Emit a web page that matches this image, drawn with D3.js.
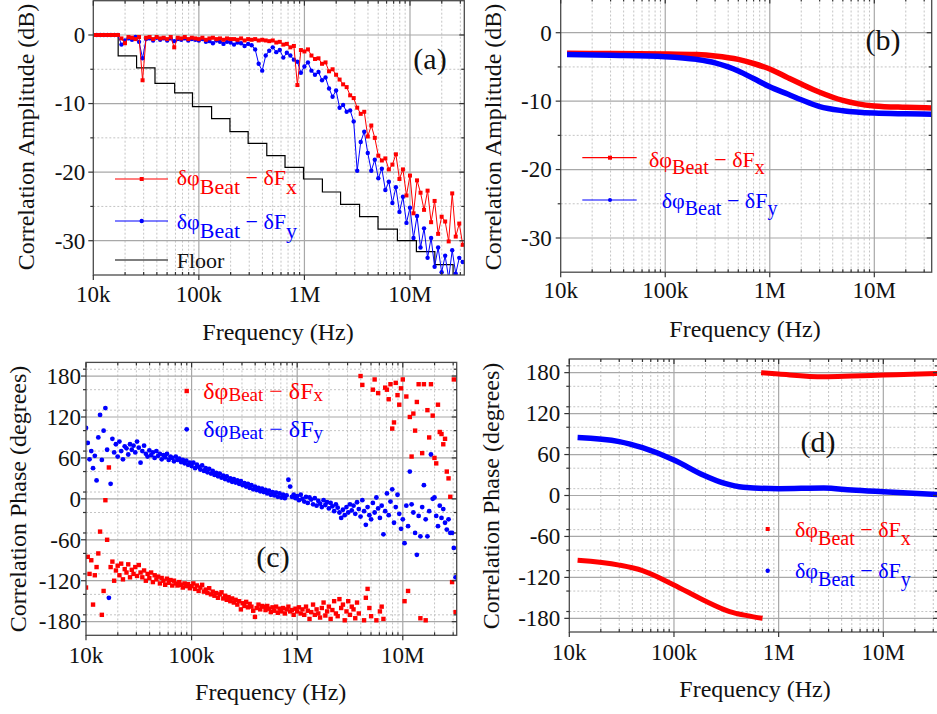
<!DOCTYPE html>
<html>
<head>
<meta charset="utf-8">
<script src="https://cdn.jsdelivr.net/npm/d3@7"></script>
<style>
  body { margin: 0; background: #fff; }
  svg, svg text { font-family: "Liberation Serif", "Times New Roman", Times, serif; }
</style>
</head>
<body>
<svg id="fig" width="937" height="714" font-family="Liberation Serif, Times New Roman, serif"></svg>
<script>
// ---------------- data ----------------
// sweep grid: 60 log-spaced points per decade (mantissas), decades of the sweep
const decades = [1e4, 1e5, 1e6, 1e7];
const mant60 = [1.000,1.039,1.080,1.122,1.166,1.212,1.259,1.308,1.359,1.413,
                1.468,1.526,1.585,1.647,1.711,1.778,1.848,1.920,1.995,2.073,
                2.154,2.239,2.326,2.418,2.512,2.610,2.712,2.818,2.929,3.043,
                3.162,3.286,3.415,3.548,3.687,3.831,3.981,4.137,4.299,4.467,
                4.642,4.823,5.012,5.208,5.412,5.623,5.843,6.072,6.310,6.556,
                6.813,7.079,7.356,7.645,7.943,8.254,8.577,8.913,9.261,9.624];

const xMajor = [1e4, 1e5, 1e6, 1e7];
const xMajorLabels = ["10k", "100k", "1M", "10M"];
const ampTicks = [0, -10, -20, -30];
const ampTickLabels = ["0", "-10", "-20", "-30"];
const phaseTicks = [180, 120, 60, 0, -60, -120, -180];
const phaseTickLabels = ["180", "120", "60", "0", "-60", "-120", "-180"];

// (a) measured correlation amplitude (dB), every second sweep point
const ampRed = [
  0,0,0,0,0,0,0,0,-0.5,-1.2,-0.3,-0.4,-0.6,-0.3,-6.6,-0.4,-0.3,-0.6,-0.3,-0.5,-0.4,-0.6,-0.3,-1.8,-0.4,-0.5,-0.3,-0.6,-0.4,-0.5,
  -0.6,-0.4,-0.7,-0.5,-0.4,-0.6,-0.5,-0.7,-0.5,-0.6,-0.6,-0.7,-0.5,-0.8,-0.6,-0.7,-0.6,-0.8,-0.7,-0.8,-0.9,-0.8,-1.1,-1.0,-1.4,-1.3,-1.8,-1.6,-7.3,-2.2,
  -2.4,-2.1,-3.0,-3.5,-3.4,-4.2,-4.0,-5.3,-5.0,-5.8,-6.5,-7.2,-7.6,-8.8,-9.2,-10.6,-11.5,-11.2,-14.8,-13.2,-15.0,-17.6,-18.3,-18.0,-19.6,-18.9,-17.4,-21.0,-19.6,-23.4,
  -20.5,-26.0,-21.2,-23.0,-25.5,-22.7,-27.3,-24.2,-29.0,-26.5,-27.2,-30.1,-23.1,-29.4,-27.5,-30.6
];
const ampBlue = [
  0,0,0,0,0,0,0,0,-1.4,-0.8,-0.5,-0.7,-0.3,-1.0,-3.4,-0.6,-0.5,-0.8,-0.4,-0.7,-0.5,-0.8,-0.5,-0.9,-0.6,-0.7,-0.5,-0.8,-0.6,-0.7,
  -0.8,-0.6,-1.0,-0.9,-1.2,-0.8,-1.0,-1.3,-1.0,-1.1,-1.4,-1.1,-1.2,-1.6,-1.3,-1.5,-2.1,-4.2,-5.2,-3.0,-2.3,-1.8,-2.5,-2.2,-3.3,-2.6,-3.0,-3.6,-3.9,-5.5,
  -4.6,-4.0,-5.2,-5.8,-5.4,-6.6,-6.2,-7.8,-9.0,-8.1,-10.6,-10.2,-11.2,-11.0,-12.6,-19.8,-15.6,-14.1,-17.2,-19.8,-18.2,-20.9,-19.5,-22.6,-21.4,-24.5,-22.2,-25.8,-23.6,-27.4,
  -25.2,-29.6,-26.4,-31.0,-28.2,-32.5,-29.6,-33.8,-31.0,-34.6,-32.2,-35.5,-31.4,-34.8,-32.5,-33.1
];
// (a) measurement floor (step levels starting at each frequency)
const floorFreq = [1e4,1.72e4,2.57e4,3.84e4,5.9e4,8.7e4,1.32e5,1.97e5,2.93e5,4.4e5,6.55e5,9.8e5,1.48e6,2.2e6,3.33e6,4.98e6,7.6e6,1.15e7,1.72e7,2.56e7,3.3e7];
const floorLevel = [0,-3.05,-4.8,-7.05,-8.45,-10.45,-12.2,-14.1,-15.8,-17.6,-19.3,-21.0,-22.9,-24.7,-26.5,-28.3,-30.0,-31.6,-33.5,-35.2,-35.2];

// (b) modelled correlation amplitude (dB)
const modelAmpRedF  = [1.15e4,3e4,1e5,2e5,3e5,5e5,7e5,1e6,1.5e6,2e6,3e6,5e6,7e6,1e7,2e7,3.54e7];
const modelAmpRed   = [-3.0,-3.05,-3.1,-3.2,-3.4,-3.9,-4.5,-5.3,-6.6,-7.5,-8.7,-9.9,-10.4,-10.7,-10.9,-11.0];
const modelAmpBlueF = [1.15e4,3e4,1e5,2e5,3e5,4e5,5e5,7e5,1e6,1.5e6,2e6,3e6,5e6,1e7,2e7,3.54e7];
const modelAmpBlue  = [-3.2,-3.3,-3.5,-3.9,-4.4,-5.0,-5.6,-6.7,-7.9,-9.0,-9.8,-10.8,-11.4,-11.75,-11.85,-11.9];

// (c) measured correlation phase (degrees), full sweep grid
const phaseRed = [
  -130,-85,-110,-90,-155,-112,-100,-80,-48,-170,-135,-2,-60,46,-100,-92,-120,-105,-98,-112,
  -95,-118,-103,-108,-96,-115,-104,-110,-100,-113,-97,-108,-115,-105,-120,-110,-116,-108,-122,-112,
  -118,-114,-124,-116,-120,-126,-117,-123,-119,-127,-120,-124,-127,-122,-126,-130,-124,-128,-125,-131,
  -128,-124,-132,-127,-135,-130,-126,-136,-133,-138,-131,-140,-136,-142,-138,-145,-140,-137,-146,-142,
  -148,-144,-150,-146,-152,-148,-155,-150,-162,-153,-157,-151,-159,-154,-158,-164,-173,-160,-155,-162,
  -157,-158,-163,-157,-161,-166,-159,-164,-158,-167,-161,-165,-160,-168,-162,-158,-165,-163,-170,-161,
  -165,-159,-168,-162,-170,-158,-164,-176,-166,-155,-170,-162,-168,-174,-160,-152,-171,-165,-158,-176,
  -163,-150,-168,-172,-147,-160,-155,-178,-165,-150,-170,-158,-162,-175,-152,-168,180,167,-178,-145,
  -132,-160,-172,160,175,-178,155,-165,-158,-176,163,160,146,168,103,112,170,152,138,162,
  175,-150,150,-135,120,62,125,100,142,168,-175,67,168,-178,130,90,168,122,60,52,
  138,98,95,80,88,40,30,3,-122,175,-166
];
const phaseBlue = [
  104,82,58,70,45,63,27,90,123,57,100,133,72,-145,22,88,68,80,62,84,
  70,58,77,74,65,80,72,78,68,84,75,53,70,78,66,62,71,64,68,60,
  70,63,66,58,64,61,66,57,62,60,55,62,57,59,54,57,52,56,50,53,
  48,53,45,50,47,43,49,41,45,39,44,37,41,35,38,33,37,31,34,29,
  33,27,30,25,29,24,27,22,26,20,23,18,22,16,20,14,18,13,16,11,
  15,10,13,8,12,6,10,5,9,3,8,2,6,1,5,28,18,3,6,1,
  4,-2,6,0,-4,3,-6,2,-1,-8,1,-10,-3,-7,-12,-2,-9,-5,-14,-6,
  -11,-18,-8,-13,-20,-28,-16,-24,-12,-20,-8,-17,-10,-22,-5,-15,-26,-2,-18,-38,
  -12,-24,-30,-6,-20,2,-14,-28,-10,-52,-18,8,-24,-4,14,-35,-12,6,-22,-44,
  -30,-65,-10,-40,40,-8,-20,-50,-82,-25,-55,-12,20,-30,-55,-18,65,0,2,-25,
  -40,-10,-28,-15,-35,-45,-30,-50,-50,-72,-115
];

// (d) modelled correlation phase (degrees); red wraps at ±180
const modelPhBlueF = [1.2e4,3e4,5e4,1e5,1.9e5,3e5,4.6e5,1e6,2.7e6,5e6,1e7,3.4e7];
const modelPhBlue  = [85,79,70,52,30,18,12,10,11,8,5.5,1.5];
const modelPhRedLoF = [1.2e4,3e4,5e4,1e5,1.9e5,3.4e5,5e5,7e5];
const modelPhRedLo  = [-95,-102,-110,-131,-153,-170,-176,-180];
const modelPhRedHiF = [6.8e5,1e6,2.7e6,5e6,1e7,3.4e7];
const modelPhRedHi  = [180,178,174,175,176.5,179];

// ---------------- drawing ----------------
const RED = "#ff0000", BLUE = "#0000ff";
const FONT = "'Liberation Serif', 'Times New Roman', Times, serif";
const svg = d3.select("#fig");
const sweepFreq = decades.flatMap(d => mant60.map(m => +(d * m).toPrecision(4)));
const freqA = sweepFreq.filter((_, i) => i % 2 === 0);
const pts = (fs, vs) => vs.map((v, i) => ({ f: fs[i], v }));

function txt(sel, size) {
  return sel.style("font-family", FONT).style("font-size", size + "px");
}

function panel(p) {
  const g = svg.append("g");
  const x = d3.scaleLog().domain([1e4, p.xMax]).range([p.x0, p.x1]);
  const y = d3.scaleLinear().domain([p.yMin, p.yMax]).range([p.bottom, p.top]);
  const clipId = "clip-" + p.id;
  g.append("clipPath").attr("id", clipId).append("rect")
    .attr("x", p.x0).attr("y", p.top).attr("width", p.x1 - p.x0).attr("height", p.bottom - p.top);

  const xAll = x.ticks().filter(t => t >= 1e4 && t <= p.xMax);
  const xMinor = xAll.filter(t => !xMajor.includes(t));
  const yMinor = d3.range(p.yMin, p.yMax + 0.001, p.yMinorStep).filter(v => !p.yTicks.includes(v) && v > p.yMin && v < p.yMax);

  // grid
  const grid = g.append("g");
  grid.selectAll(".xm").data(xMinor).join("line")
    .attr("x1", d => x(d)).attr("x2", d => x(d)).attr("y1", p.top).attr("y2", p.bottom)
    .attr("stroke", "#c4c4c4").attr("stroke-width", 1).attr("stroke-dasharray", "2,2");
  grid.selectAll(".ym").data(yMinor).join("line")
    .attr("x1", p.x0).attr("x2", p.x1).attr("y1", d => y(d)).attr("y2", d => y(d))
    .attr("stroke", "#c4c4c4").attr("stroke-width", 1).attr("stroke-dasharray", "2,2");
  grid.selectAll(".xM").data(xMajor.filter(t => t > 1e4)).join("line")
    .attr("x1", d => x(d)).attr("x2", d => x(d)).attr("y1", p.top).attr("y2", p.bottom)
    .attr("stroke", "#a8a8a8").attr("stroke-width", 1.2);
  grid.selectAll(".yM").data(p.yTicks).join("line")
    .attr("x1", p.x0).attr("x2", p.x1).attr("y1", d => y(d)).attr("y2", d => y(d))
    .attr("stroke", "#a8a8a8").attr("stroke-width", 1.2);

  const data = g.append("g").attr("clip-path", `url(#${clipId})`);

  // frame
  g.append("rect").attr("x", p.x0).attr("y", p.top).attr("width", p.x1 - p.x0).attr("height", p.bottom - p.top)
    .attr("fill", "none").attr("stroke", "#4a4a4a").attr("stroke-width", 1.3);

  // ticks
  const tk = g.append("g").attr("stroke", "#333").attr("stroke-width", 1.2);
  tk.selectAll(".bM").data(xMajor).join("line")
    .attr("x1", d => x(d)).attr("x2", d => x(d)).attr("y1", p.bottom).attr("y2", p.bottom + 5);
  tk.selectAll(".bm").data(xMinor).join("line")
    .attr("x1", d => x(d)).attr("x2", d => x(d)).attr("y1", p.bottom).attr("y2", p.bottom - 3);
  tk.selectAll(".tm").data(xAll).join("line")
    .attr("x1", d => x(d)).attr("x2", d => x(d)).attr("y1", p.top).attr("y2", d => p.top + (xMajor.includes(d) ? 5 : 3));
  tk.selectAll(".lM").data(p.yTicks).join("line")
    .attr("x1", p.x0 - 5).attr("x2", p.x0).attr("y1", d => y(d)).attr("y2", d => y(d));
  tk.selectAll(".lm").data(yMinor).join("line")
    .attr("x1", p.x0 - 3).attr("x2", p.x0).attr("y1", d => y(d)).attr("y2", d => y(d));
  tk.selectAll(".rM").data(p.yTicks).join("line")
    .attr("x1", p.x1 - 5).attr("x2", p.x1).attr("y1", d => y(d)).attr("y2", d => y(d));
  tk.selectAll(".rm").data(yMinor).join("line")
    .attr("x1", p.x1 - 3).attr("x2", p.x1).attr("y1", d => y(d)).attr("y2", d => y(d));

  // tick labels
  txt(g.selectAll(".xl").data(xMajor).join("text"), 23)
    .attr("x", d => x(d)).attr("y", p.xLabelY).attr("text-anchor", "middle")
    .attr("fill", "#111").text((d, i) => xMajorLabels[i]);
  txt(g.selectAll(".yl").data(p.yTicks).join("text"), 23)
    .attr("x", p.x0 - p.yLabelGap).attr("y", d => y(d)).attr("dy", "0.34em").attr("text-anchor", "end")
    .attr("fill", "#111").text((d, i) => p.yTickLabels[i]);

  // axis titles
  txt(g.append("text"), 24).attr("x", p.xTitle[0]).attr("y", p.xTitle[1]).attr("text-anchor", "middle")
    .attr("fill", "#111").text("Frequency (Hz)");
  txt(g.append("text"), 24).attr("transform", `translate(${p.yTitle[0]},${p.yTitle[1]}) rotate(-90)`)
    .attr("text-anchor", "middle").attr("dy", "0.35em")
    .attr("fill", "#111").text(p.yTitleText);

  // panel letter
  txt(g.append("text"), 30).attr("x", p.tag[0]).attr("y", p.tag[1]).attr("text-anchor", "middle")
    .attr("fill", "#111").text(p.tagText);

  return { g, x, y, data };
}

function legendLabel(g, x, y, color, letter, size, subSize, shift) {
  const t = txt(g.append("text"), size).attr("x", x).attr("y", y).attr("fill", color);
  t.append("tspan").text("δφ");
  t.append("tspan").attr("dy", shift).style("font-size", subSize + "px").text("Beat");
  t.append("tspan").attr("dy", -shift).text(" − δF");
  t.append("tspan").attr("dy", shift).style("font-size", subSize + "px").text(letter);
}

function squares(sel, arr, x, y, s, color) {
  sel.selectAll(null).data(arr).join("rect")
    .attr("x", d => x(d.f) - s / 2).attr("y", d => y(d.v) - s / 2)
    .attr("width", s).attr("height", s).attr("fill", color);
}
function dots(sel, arr, x, y, r, color) {
  sel.selectAll(null).data(arr).join("circle")
    .attr("cx", d => x(d.f)).attr("cy", d => y(d.v)).attr("r", r).attr("fill", color);
}

// ---- (a) ----
{
  const P = panel({ id: "a", x0: 93.3, x1: 464.3, xMax: 3.27e7, top: 0.7, bottom: 275, yMin: -35, yMax: 5,
    yTicks: ampTicks, yTickLabels: ampTickLabels, yMinorStep: 5, yLabelGap: 8, xLabelY: 301.5,
    xTitle: [278, 340], yTitle: [26, 137], yTitleText: "Correlation Amplitude (dB)", tag: [430, 69], tagText: "(a)" });
  const { x, y, data, g } = P;
  const line = d3.line().x(d => x(d.f)).y(d => y(d.v));
  data.append("path").datum(pts(floorFreq, floorLevel)).attr("d", line.curve(d3.curveStepAfter))
    .attr("fill", "none").attr("stroke", "#000").attr("stroke-width", 1.2);
  line.curve(d3.curveLinear);
  const b = pts(freqA, ampBlue), r = pts(freqA, ampRed);
  data.append("path").datum(b).attr("d", line).attr("fill", "none").attr("stroke", BLUE).attr("stroke-width", 1);
  dots(data.append("g"), b, x, y, 2.2, BLUE);
  data.append("path").datum(r).attr("d", line).attr("fill", "none").attr("stroke", RED).attr("stroke-width", 1);
  squares(data.append("g"), r, x, y, 4, RED);

  const lg = g.append("g");
  lg.append("line").attr("x1", 115).attr("x2", 168).attr("y1", 179).attr("y2", 179).attr("stroke", RED).attr("stroke-width", 1.2);
  lg.append("rect").attr("x", 139.7).attr("y", 177).attr("width", 4).attr("height", 4).attr("fill", RED);
  lg.append("line").attr("x1", 115).attr("x2", 168).attr("y1", 221).attr("y2", 221).attr("stroke", BLUE).attr("stroke-width", 1.2);
  lg.append("circle").attr("cx", 141.7).attr("cy", 221).attr("r", 2.2).attr("fill", BLUE);
  lg.append("line").attr("x1", 115).attr("x2", 168).attr("y1", 260).attr("y2", 260).attr("stroke", "#000").attr("stroke-width", 1.2);
  legendLabel(lg, 176.7, 185, RED, "x", 22, 22, 9);
  legendLabel(lg, 176.7, 229, BLUE, "y", 22, 22, 9);
  txt(lg.append("text"), 22).attr("x", 176.7).attr("y", 268).attr("fill", "#111").text("Floor");
}

// ---- (b) ----
{
  const P = panel({ id: "b", x0: 560.7, x1: 931.7, xMax: 3.54e7, top: -1.5, bottom: 272.2, yMin: -35, yMax: 5,
    yTicks: ampTicks, yTickLabels: ampTickLabels, yMinorStep: 5, yLabelGap: 9, xLabelY: 298,
    xTitle: [745, 337], yTitle: [492.5, 137], yTitleText: "Correlation Amplitude (dB)", tag: [883, 50], tagText: "(b)" });
  const { x, y, data, g } = P;
  const line = d3.line().x(d => x(d.f)).y(d => y(d.v)).curve(d3.curveMonotoneX);
  data.append("path").datum(pts(modelAmpRedF, modelAmpRed)).attr("d", line)
    .attr("fill", "none").attr("stroke", RED).attr("stroke-width", 5.5);
  data.append("path").datum(pts(modelAmpBlueF, modelAmpBlue)).attr("d", line)
    .attr("fill", "none").attr("stroke", BLUE).attr("stroke-width", 5.5);

  const lg = g.append("g");
  lg.append("line").attr("x1", 582.3).attr("x2", 636.7).attr("y1", 157.7).attr("y2", 157.7).attr("stroke", RED).attr("stroke-width", 1.2);
  lg.append("rect").attr("x", 608).attr("y", 155.7).attr("width", 4).attr("height", 4).attr("fill", RED);
  lg.append("line").attr("x1", 582.3).attr("x2", 636.7).attr("y1", 200).attr("y2", 200).attr("stroke", BLUE).attr("stroke-width", 1.2);
  lg.append("circle").attr("cx", 610).attr("cy", 200).attr("r", 2).attr("fill", BLUE);
  legendLabel(lg, 649, 166.7, RED, "x", 22, 20, 7);
  legendLabel(lg, 661.7, 208.3, BLUE, "y", 22, 20, 7);
}

// ---- (c) ----
{
  const P = panel({ id: "c", x0: 86, x1: 456.7, xMax: 3.24e7, top: 362.4, bottom: 635.3, yMin: -200, yMax: 200,
    yTicks: phaseTicks, yTickLabels: phaseTickLabels, yMinorStep: 30, yLabelGap: 5, xLabelY: 663.3,
    xTitle: [270.7, 700], yTitle: [18, 499], yTitleText: "Correlation Phase (degrees)", tag: [273, 566.7], tagText: "(c)" });
  const { x, y, data, g } = P;
  dots(data.append("g"), pts(sweepFreq, phaseBlue), x, y, 2.4, BLUE);
  squares(data.append("g"), pts(sweepFreq, phaseRed), x, y, 4.4, RED);

  const lg = g.append("g");
  lg.append("rect").attr("x", 184.5).attr("y", 388.8).attr("width", 4.4).attr("height", 4.4).attr("fill", RED);
  lg.append("circle").attr("cx", 186.7).attr("cy", 429.3).attr("r", 2.4).attr("fill", BLUE);
  legendLabel(lg, 203.3, 399.3, RED, "x", 24, 19, 2);
  legendLabel(lg, 203.3, 437.3, BLUE, "y", 24, 19, 2);
}

// ---- (d) ----
{
  const P = panel({ id: "d", x0: 569.3, x1: 938, xMax: 3.33e7, top: 359, bottom: 632, yMin: -200, yMax: 200,
    yTicks: phaseTicks, yTickLabels: phaseTickLabels, yMinorStep: 30, yLabelGap: 9, xLabelY: 660,
    xTitle: [755, 696.7], yTitle: [491, 496], yTitleText: "Correlation Phase (degrees)", tag: [818, 451.7], tagText: "(d)" });
  const { x, y, data, g } = P;
  const line = d3.line().x(d => x(d.f)).y(d => y(d.v)).curve(d3.curveMonotoneX);
  data.append("path").datum(pts(modelPhBlueF, modelPhBlue)).attr("d", line)
    .attr("fill", "none").attr("stroke", BLUE).attr("stroke-width", 5.5);
  data.append("path").datum(pts(modelPhRedLoF, modelPhRedLo)).attr("d", line)
    .attr("fill", "none").attr("stroke", RED).attr("stroke-width", 5);
  data.append("path").datum(pts(modelPhRedHiF, modelPhRedHi)).attr("d", line)
    .attr("fill", "none").attr("stroke", RED).attr("stroke-width", 5);

  const lg = g.append("g");
  lg.append("rect").attr("x", 765.7).attr("y", 527).attr("width", 4).attr("height", 4).attr("fill", RED);
  lg.append("circle").attr("cx", 767.7).attr("cy", 570.7).attr("r", 2.2).attr("fill", BLUE);
  legendLabel(lg, 795, 536.7, RED, "x", 22, 20, 8);
  legendLabel(lg, 795, 578.3, BLUE, "y", 22, 20, 8);
}
</script>
</body>
</html>
